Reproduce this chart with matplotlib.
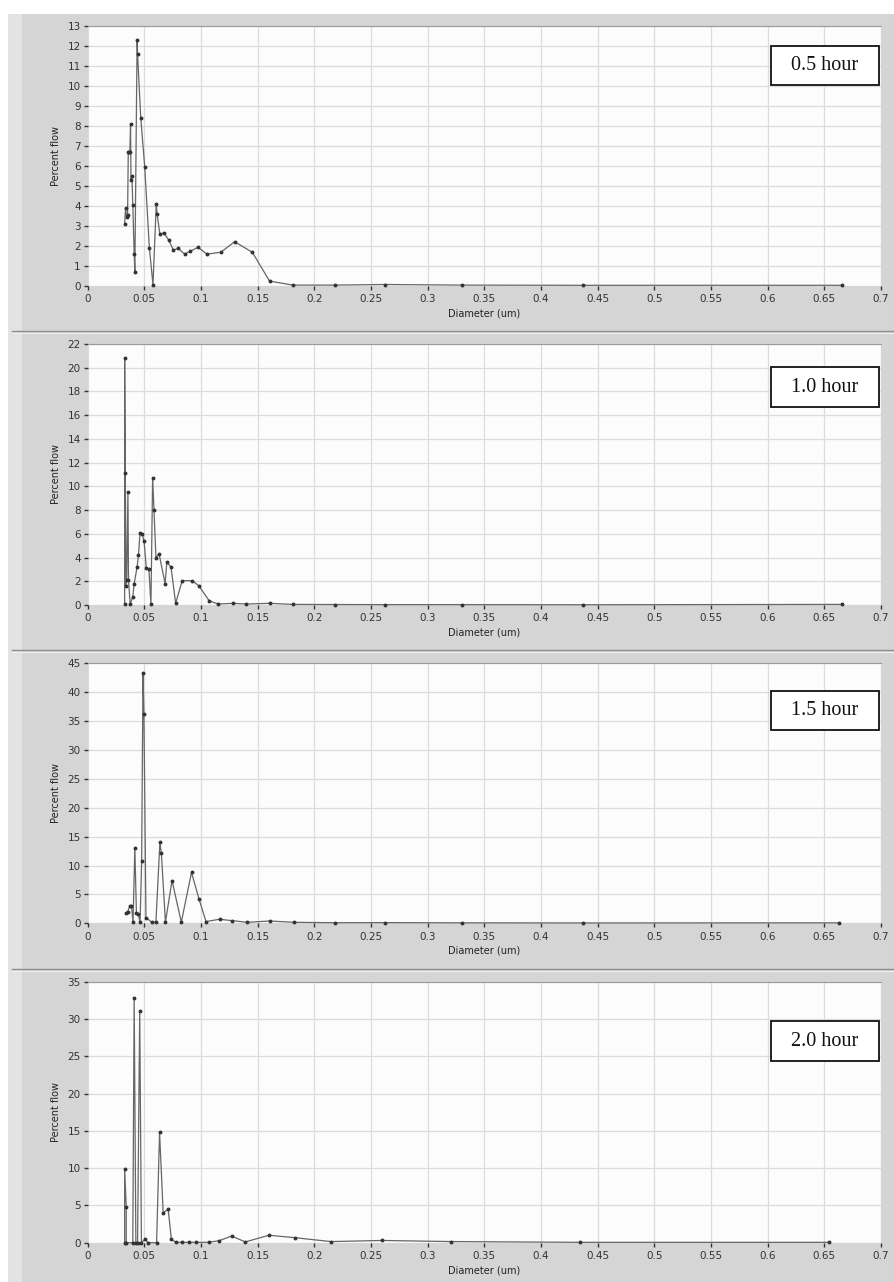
import numpy as np
import matplotlib.pyplot as plt
from matplotlib.patches import Rectangle
from matplotlib.lines import Line2D

W, H = 894, 1282

# data (diameter in um, percent flow)
x_05 = [0.0326, 0.0334, 0.0343, 0.0352, 0.0358, 0.0364, 0.0372, 0.0378, 0.0382, 0.0390,
        0.0398, 0.0410, 0.0416, 0.0436, 0.0440, 0.0468, 0.0503, 0.0544, 0.0576, 0.0605,
        0.0612, 0.0637, 0.0672, 0.0715, 0.0756, 0.0797, 0.0855, 0.0907, 0.0974, 0.1052,
        0.1174, 0.1297, 0.1453, 0.1605, 0.1810, 0.218, 0.262, 0.330, 0.437, 0.666]
y_05 = [3.08, 3.87, 3.45, 3.55, 6.7, 6.7, 6.7, 8.08, 5.3, 5.5,
        4.03, 1.6, 0.7, 12.28, 11.6, 8.4, 5.95, 1.9, 0.05, 4.1,
        3.6, 2.57, 2.65, 2.28, 1.78, 1.87, 1.58, 1.73, 1.92, 1.58,
        1.67, 2.2, 1.67, 0.23, 0.03, 0.03, 0.06, 0.03, 0.02, 0.02]

x_10 = [0.0326, 0.0326, 0.0332, 0.0338, 0.0344, 0.0355, 0.0360, 0.0375, 0.0398, 0.0410,
        0.0436, 0.0448, 0.0462, 0.0480, 0.0497, 0.0517, 0.0540, 0.0558, 0.0573, 0.0585,
        0.0602, 0.0630, 0.0683, 0.0698, 0.0735, 0.0776, 0.0834, 0.0922, 0.0980, 0.1073,
        0.1154, 0.1280, 0.1400, 0.1605, 0.1810, 0.218, 0.262, 0.330, 0.437, 0.666]
y_10 = [0.1, 20.85, 11.1, 1.6, 2.1, 9.55, 2.1, 0.08, 0.7, 1.8,
        3.2, 4.2, 6.1, 6.0, 5.4, 3.15, 3.0, 0.08, 10.73, 8.0,
        4.0, 4.3, 1.8, 3.6, 3.2, 0.15, 2.05, 2.05, 1.63, 0.34,
        0.08, 0.14, 0.08, 0.14, 0.05, 0.04, 0.03, 0.03, 0.02, 0.05]

x_15 = [0.0334, 0.0352, 0.0372, 0.0386, 0.0400, 0.0416, 0.0430, 0.0445, 0.0462, 0.0476,
        0.0488, 0.0496, 0.0514, 0.0564, 0.0602, 0.0637, 0.0650, 0.0686, 0.0744, 0.0826,
        0.0916, 0.0983, 0.1044, 0.1163, 0.1273, 0.1410, 0.1605, 0.1820, 0.218, 0.262,
        0.330, 0.437, 0.663]
y_15 = [1.7, 2.0, 3.0, 3.05, 0.2, 13.1, 1.7, 1.6, 0.2, 10.7,
        43.4, 36.3, 1.0, 0.2, 0.2, 14.0, 12.1, 0.2, 7.4, 0.2,
        8.8, 4.15, 0.3, 0.7, 0.46, 0.17, 0.4, 0.17, 0.1, 0.12,
        0.08, 0.06, 0.08]

x_20 = [0.0326, 0.0326, 0.0340, 0.0340, 0.0398, 0.0410, 0.0425, 0.0440, 0.0459, 0.0474,
        0.0506, 0.0530, 0.0608, 0.0634, 0.0666, 0.0710, 0.0738, 0.0776, 0.0834, 0.0890,
        0.0960, 0.1067, 0.1160, 0.1270, 0.1390, 0.1600, 0.1830, 0.2145, 0.2600, 0.3210,
        0.4340, 0.6540]
y_20 = [0.0, 9.9, 4.8, 0.0, 0.0, 32.8, 0.0, 0.0, 31.1, 0.0,
        0.5, 0.0, 0.0, 14.8, 4.0, 4.5, 0.5, 0.05, 0.05, 0.05,
        0.05, 0.05, 0.27, 0.9, 0.1, 1.0, 0.67, 0.15, 0.3, 0.15,
        0.05, 0.05]

labels = ['0.5 hour', '1.0 hour', '1.5 hour', '2.0 hour']
y_max = [13, 22, 45, 35]
y_step = [1, 2, 5, 5]
x_ticks = [0, 0.05, 0.1, 0.15, 0.2, 0.25, 0.3, 0.35, 0.4, 0.45, 0.5, 0.55, 0.6, 0.65, 0.7]

# pixel layout of the plot areas (top, bottom) and label boxes (top, bottom)
plot_rows = [(25.7, 285.7), (344, 605), (663.3, 923.3), (981.7, 1242.7)]
box_rows = [(46, 85), (367, 407), (691, 730), (1021, 1061)]
sep_rows = [331, 650, 969]
plot_left, plot_right = 87.7, 881
box_left, box_right = 771, 879

series = [(x_05, y_05), (x_10, y_10), (x_15, y_15), (x_20, y_20)]


def fx(px):
    return px / W


def fy(py):
    return 1 - py / H


fig = plt.figure(figsize=(W / 100, H / 100), dpi=100)
fig.patch.set_facecolor('#d5d5d5')

# white margins and lighter left strip like the screenshot
fig.add_artist(Rectangle((0, fy(14)), 1, 14 / H, transform=fig.transFigure,
                         facecolor='white', edgecolor='none', zorder=0))
fig.add_artist(Rectangle((0, 0), fx(8), 1, transform=fig.transFigure,
                         facecolor='white', edgecolor='none', zorder=0))
fig.add_artist(Rectangle((fx(8), 0), fx(14), fy(14), transform=fig.transFigure,
                         facecolor='#e3e3e3', edgecolor='none', zorder=0))
for s in sep_rows:
    fig.add_artist(Line2D([fx(12), 1], [fy(s), fy(s)], transform=fig.transFigure,
                          color='#8e8e8e', lw=1.0))
    fig.add_artist(Line2D([fx(12), 1], [fy(s + 1.5), fy(s + 1.5)], transform=fig.transFigure,
                          color='#eeeeee', lw=0.8))

for i, (xs, ys) in enumerate(series):
    top, bot = plot_rows[i]
    ax = fig.add_axes([fx(plot_left), fy(bot), fx(plot_right - plot_left), (bot - top) / H])
    ax.set_facecolor('#fcfcfc')
    ax.plot(xs, ys, color='#666666', lw=0.9, marker='o', markersize=1.8,
            markerfacecolor='#333333', markeredgecolor='#333333', clip_on=False, zorder=3)
    ax.set_xlim(0, 0.7)
    ax.set_ylim(0, y_max[i])
    ax.set_xticks(x_ticks)
    ax.set_xticklabels(['%g' % t for t in x_ticks])
    ax.set_yticks(np.arange(0, y_max[i] + 1, y_step[i]))
    ax.grid(True, color='#dcdcdc', lw=0.9)
    ax.set_axisbelow(True)
    for side in ['left', 'right', 'bottom']:
        ax.spines[side].set_visible(False)
    ax.spines['top'].set_color('#9a9a9a')
    ax.tick_params(axis='both', labelsize=7.5, colors='#333333', direction='out',
                   length=3, width=1, pad=2)
    ax.tick_params(axis='x', pad=3)
    ax.set_ylabel('Percent flow', fontsize=7, color='#222222', labelpad=5)
    ax.set_xlabel('Diameter (um)', fontsize=7, color='#222222', labelpad=3)

    b_top, b_bot = box_rows[i]
    fig.add_artist(Rectangle((fx(box_left), fy(b_bot)), fx(box_right - box_left),
                             (b_bot - b_top) / H, transform=fig.transFigure,
                             facecolor='white', edgecolor='#111111', lw=1.3, zorder=5))
    fig.text(fx((box_left + box_right) / 2), fy((b_top + b_bot) / 2), labels[i],
             ha='center', va='center', fontsize=14.5, family='Liberation Serif',
             color='#111111', zorder=6)

fig.savefig('out.png', dpi=100, facecolor=fig.get_facecolor())
